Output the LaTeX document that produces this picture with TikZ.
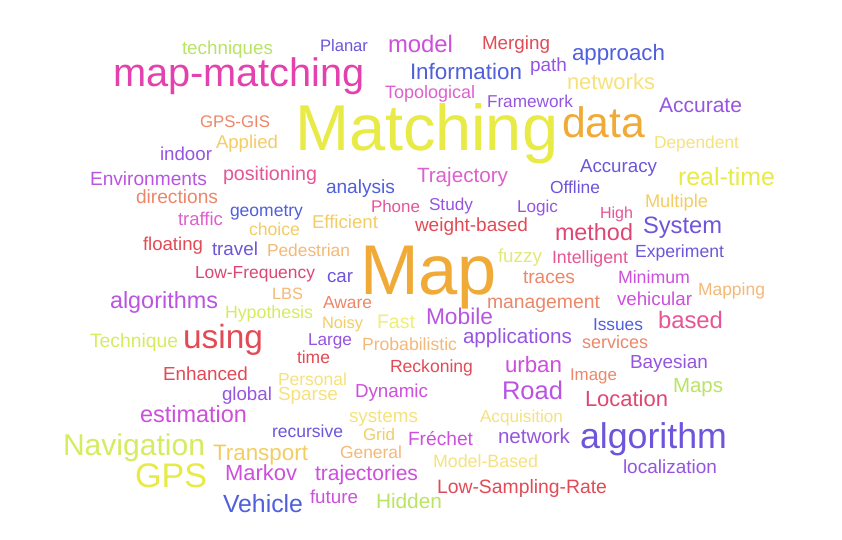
\documentclass[tikz,border=0pt]{standalone}
\usepackage{fontspec}
\setmainfont{Liberation Sans}
\usepackage{graphicx}
\definecolor{lgreen}{RGB}{185,228,100}
\definecolor{ygreen}{RGB}{215,235,95}
\definecolor{yel}{RGB}{232,234,70}
\definecolor{lyel}{RGB}{246,226,125}
\definecolor{yorange}{RGB}{243,205,100}
\definecolor{lorange}{RGB}{244,185,120}
\definecolor{orng}{RGB}{240,170,55}
\definecolor{salmon}{RGB}{236,135,105}
\definecolor{redw}{RGB}{226,75,85}
\definecolor{pinkred}{RGB}{222,70,115}
\definecolor{pinkw}{RGB}{230,85,150}
\definecolor{magw}{RGB}{228,65,175}
\definecolor{pinkmag}{RGB}{222,95,205}
\definecolor{magpurp}{RGB}{205,80,220}
\definecolor{purp}{RGB}{185,85,225}
\definecolor{violetw}{RGB}{150,85,225}
\definecolor{bluev}{RGB}{110,85,220}
\definecolor{bluew}{RGB}{80,95,220}
\definecolor{fuzzyc}{RGB}{228,232,120}
\definecolor{fastc}{RGB}{238,240,110}
\tikzset{wd/.style={anchor=base west,inner sep=0pt,outer sep=0pt}}
\newcommand\wrd[6]{\node[wd,text=#5] (#6) at (#1,#2) {\resizebox{#3pt}{!}{#4}};}
\begin{document}
\begin{tikzpicture}[x=1pt,y=-1pt]
\fill[white] (0,0) rectangle (842,539);
\useasboundingbox (0,0) rectangle (842,539);
\wrd{182}{54}{91}{techniques}{lgreen}{w1}
\wrd{113}{86}{252}{map-matching}{magw}{w2}
\wrd{320}{51}{48}{Planar}{bluev}{w3}
\wrd{388}{52}{65}{model}{magpurp}{w4}
\wrd{482}{49}{68}{Merging}{redw}{w5}
\wrd{572}{60}{93}{approach}{bluew}{w6}
\wrd{410}{79}{112}{Information}{bluew}{w7}
\wrd{530}{71}{37}{path}{violetw}{w8}
\wrd{567}{89}{88}{networks}{lyel}{w9}
\wrd{385}{98}{90}{Topological}{pinkmag}{w10}
\wrd{487}{107}{86}{Framework}{violetw}{w11}
\wrd{200}{127}{70}{GPS-GIS}{salmon}{w12}
\wrd{295}{150}{263}{Matching}{yel}{w13}
\wrd{562}{137}{83}{data}{orng}{w14}
\wrd{659}{112}{83}{Accurate}{violetw}{w15}
\wrd{216}{148}{62}{Applied}{yorange}{w16}
\wrd{654}{148}{85}{Dependent}{lyel}{w17}
\wrd{160}{160}{52}{indoor}{violetw}{w18}
\wrd{580}{172}{77}{Accuracy}{bluev}{w19}
\wrd{90}{185}{117}{Environments}{purp}{w20}
\wrd{223}{180}{94}{positioning}{pinkw}{w21}
\wrd{417}{182}{91}{Trajectory}{pinkmag}{w22}
\wrd{678}{185}{97}{real-time}{yel}{w23}
\wrd{326}{193}{69}{analysis}{bluew}{w24}
\wrd{550}{193}{50}{Offline}{bluev}{w25}
\wrd{136}{203}{82}{directions}{salmon}{w26}
\wrd{645}{207}{63}{Multiple}{yorange}{w27}
\wrd{371}{212}{49}{Phone}{pinkw}{w28}
\wrd{429}{210}{44}{Study}{violetw}{w29}
\wrd{517}{212}{41}{Logic}{violetw}{w30}
\wrd{230}{216}{73}{geometry}{bluew}{w31}
\wrd{600}{218}{33}{High}{pinkw}{w32}
\wrd{178}{225}{45}{traffic}{pinkmag}{w33}
\wrd{312}{228}{66}{Efficient}{yorange}{w34}
\wrd{415}{231}{113}{weight-based}{redw}{w35}
\wrd{643}{233}{79}{System}{bluev}{w36}
\wrd{249}{235}{51}{choice}{yorange}{w37}
\wrd{555}{240}{78}{method}{pinkred}{w38}
\wrd{143}{250}{60}{floating}{redw}{w39}
\wrd{212}{255}{46}{travel}{bluev}{w40}
\wrd{267}{256}{83}{Pedestrian}{lorange}{w41}
\wrd{635}{257}{89}{Experiment}{bluev}{w42}
\wrd{498}{262}{44}{fuzzy}{fuzzyc}{w43}
\wrd{552}{263}{76}{Intelligent}{pinkw}{w44}
\wrd{360}{294}{137}{Map}{orng}{w45}
\wrd{195}{278}{120}{Low-Frequency}{pinkred}{w46}
\wrd{327}{282}{26}{car}{bluev}{w47}
\wrd{523}{283}{52}{traces}{salmon}{w48}
\wrd{618}{283}{72}{Minimum}{magpurp}{w49}
\wrd{698}{295}{67}{Mapping}{lorange}{w50}
\wrd{272}{299}{31}{LBS}{lorange}{w51}
\wrd{617}{305}{75}{vehicular}{magpurp}{w52}
\wrd{110}{308}{108}{algorithms}{purp}{w53}
\wrd{323}{308}{49}{Aware}{salmon}{w54}
\wrd{487}{308}{113}{management}{salmon}{w55}
\wrd{225}{318}{88}{Hypothesis}{ygreen}{w56}
\wrd{426}{324}{67}{Mobile}{purp}{w57}
\wrd{322}{328}{41}{Noisy}{yorange}{w58}
\wrd{377}{328}{38}{Fast}{fastc}{w59}
\wrd{658}{328}{65}{based}{pinkw}{w60}
\wrd{593}{330}{50}{Issues}{bluew}{w61}
\wrd{463}{343}{109}{applications}{violetw}{w62}
\wrd{308}{345}{44}{Large}{violetw}{w63}
\wrd{90}{347}{88}{Technique}{ygreen}{w64}
\wrd{183}{348}{80}{using}{redw}{w65}
\wrd{582}{348}{66}{services}{salmon}{w66}
\wrd{362}{350}{95}{Probabilistic}{lorange}{w67}
\wrd{297}{363}{33}{time}{redw}{w68}
\wrd{630}{368}{78}{Bayesian}{violetw}{w69}
\wrd{390}{372}{83}{Reckoning}{redw}{w70}
\wrd{505}{372}{57}{urban}{magpurp}{w71}
\wrd{163}{380}{85}{Enhanced}{redw}{w72}
\wrd{570}{380}{47}{Image}{salmon}{w73}
\wrd{278}{385}{69}{Personal}{lyel}{w74}
\wrd{673}{392}{50}{Maps}{lgreen}{w75}
\wrd{355}{397}{73}{Dynamic}{magpurp}{w76}
\wrd{502}{399}{61}{Road}{purp}{w77}
\wrd{222}{400}{50}{global}{violetw}{w78}
\wrd{278}{400}{60}{Sparse}{lyel}{w79}
\wrd{585}{406}{83}{Location}{pinkred}{w80}
\wrd{140}{422}{107}{estimation}{magpurp}{w81}
\wrd{349}{422}{69}{systems}{lyel}{w82}
\wrd{480}{422}{83}{Acquisition}{lyel}{w83}
\wrd{272}{437}{71}{recursive}{bluev}{w84}
\wrd{363}{440}{32}{Grid}{yorange}{w85}
\wrd{498}{443}{72}{network}{violetw}{w86}
\wrd{408}{445}{65}{Fréchet}{magpurp}{w87}
\wrd{580}{448}{147}{algorithm}{bluev}{w88}
\wrd{63}{455}{142}{Navigation}{ygreen}{w89}
\wrd{340}{458}{62}{General}{lorange}{w90}
\wrd{213}{460}{95}{Transport}{yorange}{w91}
\wrd{433}{467}{105}{Model-Based}{lyel}{w92}
\wrd{623}{473}{94}{localization}{violetw}{w93}
\wrd{225}{480}{72}{Markov}{magpurp}{w94}
\wrd{315}{480}{103}{trajectories}{magpurp}{w95}
\wrd{135}{487}{72}{GPS}{yel}{w96}
\wrd{437}{493}{170}{Low-Sampling-Rate}{redw}{w97}
\wrd{310}{503}{48}{future}{magpurp}{w98}
\wrd{376}{508}{66}{Hidden}{lgreen}{w99}
\wrd{223}{512}{80}{Vehicle}{bluew}{w100}
\end{tikzpicture}
\end{document}
